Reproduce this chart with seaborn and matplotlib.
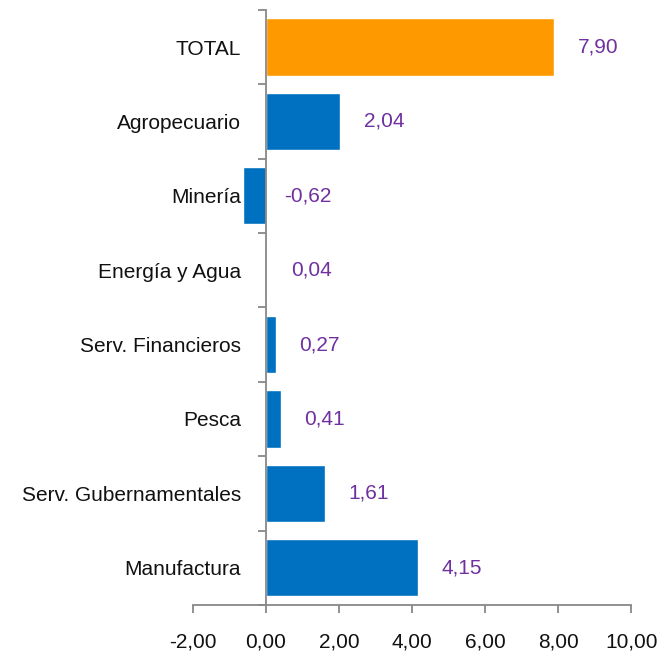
import matplotlib
matplotlib.use("Agg")
import matplotlib.pyplot as plt
from matplotlib.ticker import FixedLocator
import seaborn as sns
import pandas as pd

sectors = ["TOTAL", "Agropecuario", "Minería", "Energía y Agua", "Serv. Financieros",
           "Pesca", "Serv. Gubernamentales", "Manufactura"]
values = [7.90, 2.04, -0.62, 0.04, 0.27, 0.41, 1.61, 4.15]
colors = ["#FF9900"] + ["#0070C0"] * 7

df = pd.DataFrame({"sector": sectors, "valor": values})

sns.set_style("white")
plt.rcParams["font.family"] = ["Liberation Sans", "DejaVu Sans"]

fig = plt.figure(figsize=(6.63, 6.54), dpi=100)
ax = fig.add_axes([0.291, 0.075, 0.661, 0.91])

sns.barplot(data=df, y="sector", x="valor", hue="sector", palette=colors,
            legend=False, width=0.77, ax=ax, saturation=1)

ax.set_xlim(-2, 10)
ax.set_ylim(len(sectors) - 0.5, -0.5)
ax.set_xticks(range(-2, 11, 2))
ax.set_xticklabels([f"{t:.2f}".replace(".", ",") for t in range(-2, 11, 2)], fontsize=15)
ax.set_xlabel("")
ax.set_ylabel("")

# gray axes: category axis sits at x = 0
gray = "#888888"
for s in ["top", "right"]:
    ax.spines[s].set_visible(False)
ax.spines["left"].set_position(("data", 0))
for s in ["left", "bottom"]:
    ax.spines[s].set_color(gray)
    ax.spines[s].set_linewidth(1.3)
    ax.spines[s].set_zorder(3)

ax.yaxis.set_minor_locator(FixedLocator([i - 0.5 for i in range(len(sectors) + 1)]))
ax.tick_params(axis="y", which="major", left=True, length=0, labelsize=15, pad=18,
               labelcolor="#111111")
ax.tick_params(axis="y", which="minor", left=True, length=6, width=1.3, color=gray,
               direction="out")
ax.tick_params(axis="x", bottom=True, length=6, width=1.3, color=gray, pad=14,
               direction="out", labelcolor="#111111")

# value labels
for i, v in enumerate(values):
    off = 17 if v >= 0 else 13
    ax.annotate(f"{v:.2f}".replace(".", ","), xy=(max(v, 0), i),
                xytext=(off, 0), textcoords="offset points",
                va="center", ha="left", fontsize=15, color="#7030A0")

plt.savefig("out.png", dpi=100)
